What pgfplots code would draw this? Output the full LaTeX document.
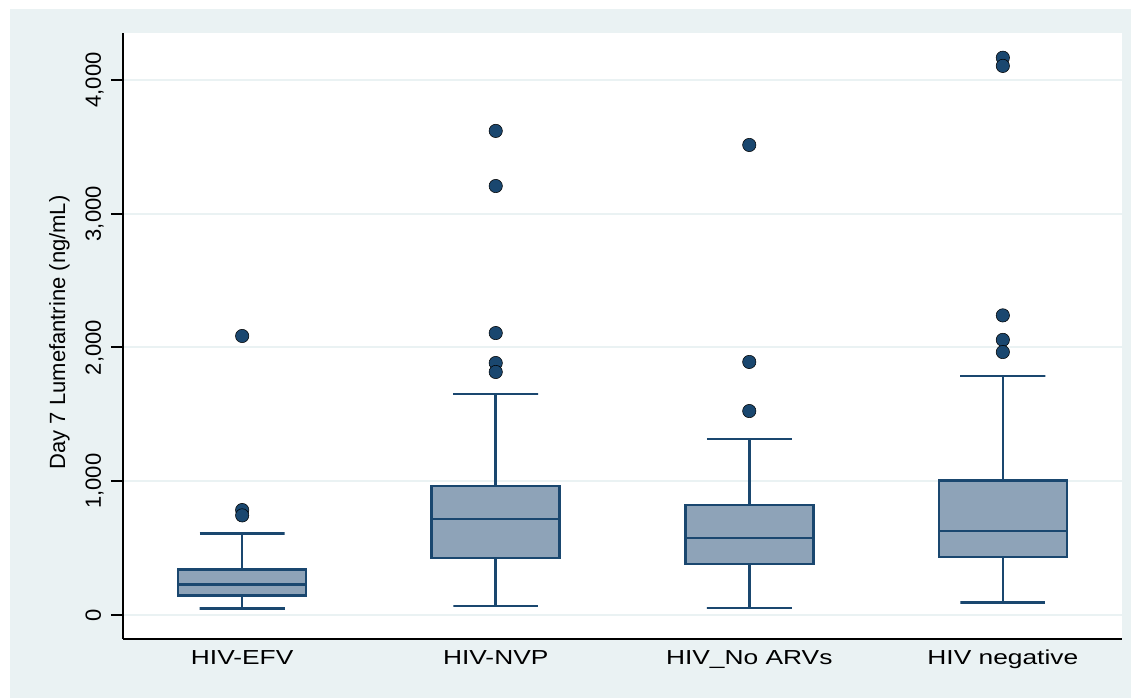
\documentclass[border=0pt]{standalone}
\usepackage{pgfplots}
\pgfplotsset{compat=1.18}
\usepackage{fontspec}
\setmainfont{Liberation Sans}
\newfontfamily\xlabfont[FakeStretch=1.3]{Liberation Sans}
\definecolor{bgcol}{RGB}{234,242,243}
\definecolor{navy}{RGB}{26,71,111}
\definecolor{boxfill}{RGB}{142,163,184}
\begin{document}
\begin{tikzpicture}
\fill[white] (0,0) rectangle (848.25pt,523.5pt);
\fill[bgcol] (7.5pt,0) rectangle (848.25pt,516.75pt);
\fill[white] (92.25pt,44.25pt) rectangle (841.5pt,498.75pt);
\begin{axis}[
  at={(92.25pt,44.25pt)}, anchor=south west,
  scale only axis, width=749.25pt, height=454.5pt,
  xmin=0.53, xmax=4.47, ymin=-179, ymax=4351,
  axis x line*=bottom, axis y line*=left,
  axis line style={black, line width=1.5pt},
  xtick={1,2,3,4},
  xticklabels={HIV-EFV, HIV-NVP, HIV\_No ARVs, HIV negative},
  ytick={0,1000,2000,3000,4000},
  tick align=outside, major tick length=9pt,
  tick style={black, line width=1.5pt},
  major x tick style={draw opacity=0},
  minor tick num=0,
  ymajorgrids, major grid style={color=bgcol, line width=1.5pt},
  /pgf/number format/assume math mode=true,
  /pgf/number format/1000 sep={,},
  scaled y ticks=false,
  yticklabel style={rotate=90, anchor=base, inner sep=0pt, yshift=7.5pt, font=\fontsize{16.5}{18}\selectfont},
  xticklabel style={anchor=base, inner sep=0pt, yshift=-10pt, font=\xlabfont\fontsize{15.2}{17}\selectfont},
  ylabel={Day 7 Lumefantrine (ng/mL)},
  ylabel style={at={(axis description cs:-0.058,0.506)}, anchor=base, inner sep=0pt, font=\fontsize{16.5}{18}\selectfont},
  bx/.style={draw=navy, line width=1.9pt},
  bxf/.style={draw=navy, fill=boxfill, line width=1.9pt, line join=miter},
  outl/.style={only marks, mark=*, mark size=5pt, mark options={fill=navy, draw=none}},
]
% HIV-EFV
\addplot[bx] coordinates {(0.8325,611) (1.1675,611) (1,611) (1,342)};
\addplot[bx] coordinates {(1,145) (1,50) (0.8325,50) (1.1675,50)};
\addplot[bxf] coordinates {(0.7475,145) (1.2525,145) (1.2525,342) (0.7475,342)} -- cycle;
\addplot[bx] coordinates {(0.7475,229) (1.2525,229)};
\addplot[outl] coordinates {(1,2086) (1,785) (1,745)};
% HIV-NVP
\addplot[bx] coordinates {(1.8325,1652) (2.1675,1652) (2,1652) (2,964)};
\addplot[bx] coordinates {(2,426) (2,67) (1.8325,67) (2.1675,67)};
\addplot[bxf] coordinates {(1.7475,426) (2.2525,426) (2.2525,964) (1.7475,964)} -- cycle;
\addplot[bx] coordinates {(1.7475,718) (2.2525,718)};
\addplot[outl] coordinates {(2,3619) (2,3207) (2,2108) (2,1884) (2,1817)};
% HIV_No ARVs
\addplot[bx] coordinates {(2.8325,1316) (3.1675,1316) (3,1316) (3,822)};
\addplot[bx] coordinates {(3,381) (3,52) (2.8325,52) (3.1675,52)};
\addplot[bxf] coordinates {(2.7475,381) (3.2525,381) (3.2525,822) (2.7475,822)} -- cycle;
\addplot[bx] coordinates {(2.7475,576) (3.2525,576)};
\addplot[outl] coordinates {(3,3514) (3,1892) (3,1525)};
% HIV negative
\addplot[bx] coordinates {(3.8325,1786) (4.1675,1786) (4,1786) (4,1005)};
\addplot[bx] coordinates {(4,434) (4,92) (3.8325,92) (4.1675,92)};
\addplot[bxf] coordinates {(3.7475,434) (4.2525,434) (4.2525,1005) (3.7475,1005)} -- cycle;
\addplot[bx] coordinates {(3.7475,630) (4.2525,630)};
\addplot[outl] coordinates {(4,4166) (4,4105) (4,2240) (4,2057) (4,1966)};
\end{axis}
\end{tikzpicture}
\end{document}
